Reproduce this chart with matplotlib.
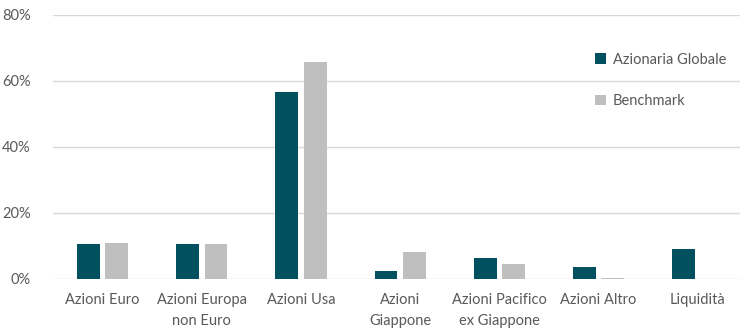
import numpy as np
import matplotlib
matplotlib.use("Agg")
import matplotlib.pyplot as plt
from matplotlib.ticker import FuncFormatter

plt.rcParams["font.family"] = ["Lato", "DejaVu Sans"]

CATEGORIES = [
    "Azioni Euro", "Azioni Europa\nnon Euro", "Azioni Usa", "Azioni\nGiappone",
    "Azioni Pacifico\nex Giappone", "Azioni Altro", "Liquidità",
]
FUND = [10.5, 10.5, 56.6, 2.5, 6.3, 3.5, 9.0]
BENCHMARK = [10.8, 10.5, 65.8, 8.1, 4.4, 0.3, 0.0]
SERIES_NAMES = ["Azionaria Globale", "Benchmark"]

DARK = "#00505F"
GREY = "#BFBFBF"
TEXT = "#595959"

fig = plt.figure(figsize=(7.40, 3.29), dpi=100)
ax = fig.add_axes([53 / 740, 50 / 329, 687 / 740, 264 / 329])

x = np.arange(len(CATEGORIES))
w = 0.23
ax.bar(x - 0.144, FUND, width=w, color=DARK, label=SERIES_NAMES[0], zorder=3)
ax.bar(x + 0.144, BENCHMARK, width=w, color=GREY, label=SERIES_NAMES[1], zorder=3)

ax.set_xlim(-0.5, -0.5 + 687 / 99.2)
ax.set_ylim(0, 80)
ax.set_yticks([0, 20, 40, 60, 80])
ax.yaxis.set_major_formatter(FuncFormatter(lambda v, p: f"{v:.0f}%"))
ax.grid(axis="y", color="#D9D9D9", linewidth=1, zorder=0)
ax.set_xticks(x)
ax.set_xticklabels(CATEGORIES, linespacing=1.65)
ax.tick_params(axis="both", length=0, labelsize=10.5, colors=TEXT)
ax.tick_params(axis="y", pad=16)
ax.tick_params(axis="x", pad=10)
for s in ax.spines.values():
    s.set_visible(False)

leg = ax.legend(loc="upper left", bbox_to_anchor=(0.78, 0.88), frameon=False,
                fontsize=10.5, handlelength=0.75, handleheight=0.75,
                handletextpad=0.5, labelspacing=1.9, borderaxespad=0)
for t in leg.get_texts():
    t.set_color(TEXT)

fig.savefig("out.png", dpi=100)
